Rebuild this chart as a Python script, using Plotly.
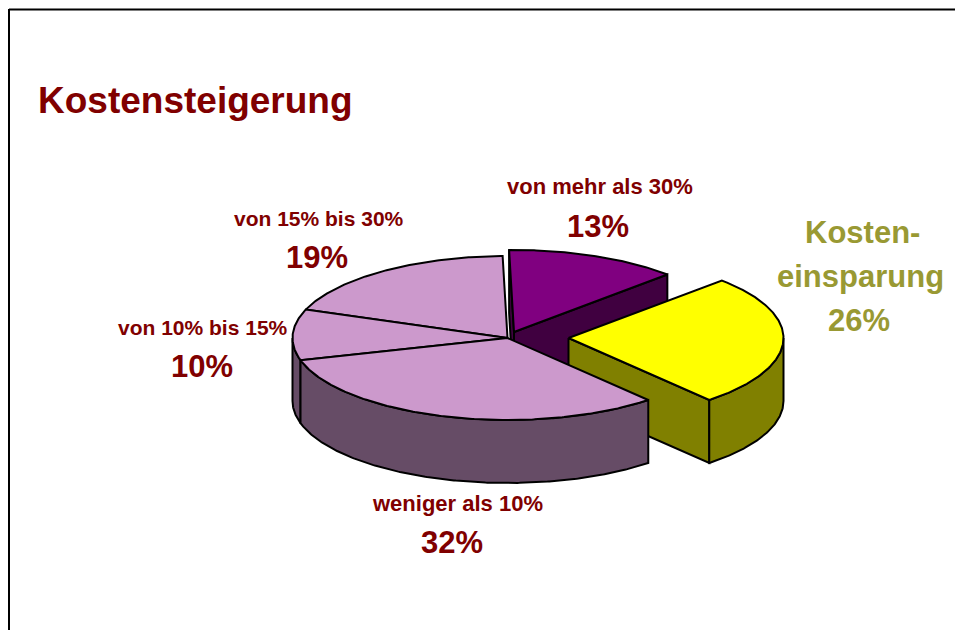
import numpy as np
import plotly.graph_objects as go

# --- data (angles run counter-clockwise) ---
categories = ["von mehr als 30%", "von 15% bis 30%", "von 10% bis 15%", "weniger als 10%", "Kostenersparnis"]
values = [13, 19, 10, 32, 26]
percent_labels = ["13%", "19%", "10%", "32%", "26%"]
title_text = "Kostensteigerung"

# --- projection of the tilted pie onto the page (pixel-sized data axes) ---
START_ANGLE = 44.5
RX, RY, DEPTH = 215, 82, 63
CENTERS = [(514, 332), (507.5, 338), (507.5, 338), (507.5, 338), (568.5, 338)]
TOP = ["#800080", "#CC99CC", "#CC99CC", "#CC99CC", "#FFFF00"]
SIDE = ["#400040", "#664C66", "#664C66", "#664C66", "#808000"]
DARK_RED = "#800000"
OLIVE = "#999933"
EDGE = "black"
LW = 2

fracs = np.array(values) / sum(values) * 360
ends = START_ANGLE + np.cumsum(fracs)
starts = ends - fracs


def arc(c, a0, a1, dy=0):
    t = np.radians(np.linspace(a0, a1, max(int(abs(a1 - a0)) * 2, 2)))
    return c[0] + RX * np.cos(t), c[1] - RY * np.sin(t) + dy


def poly(fig, x, y, color):
    fig.add_trace(go.Scatter(
        x=np.r_[x, x[0]], y=np.r_[y, y[0]], mode="lines", fill="toself",
        fillcolor=color, line=dict(color=EDGE, width=LW, shape="linear"),
        hoverinfo="skip", showlegend=False))


def cut_face(fig, i, angle):
    c = CENTERS[i]
    px, py = arc(c, angle, angle)
    px, py = px[0], py[0]
    poly(fig, np.array([c[0], px, px, c[0]]),
         np.array([c[1], py, py + DEPTH, c[1] + DEPTH]), SIDE[i])


def wall(fig, i, a0, a1):
    x0, y0 = arc(CENTERS[i], a0, a1)
    x1, y1 = arc(CENTERS[i], a1, a0, DEPTH)
    poly(fig, np.r_[x0, x1], np.r_[y0, y1], SIDE[i])


def top(fig, i):
    x, y = arc(CENTERS[i], starts[i], ends[i])
    c = CENTERS[i]
    poly(fig, np.r_[c[0], x], np.r_[c[1], y], TOP[i])


fig = go.Figure()

# back slice: purple, with both cut faces
cut_face(fig, 0, starts[0])
cut_face(fig, 0, ends[0])
top(fig, 0)

# exploded yellow slice
cut_face(fig, 4, starts[4])
wall(fig, 4, starts[4], 360)
top(fig, 4)

# pink slices: visible outer walls, then tops
wall(fig, 2, 180, ends[2])
wall(fig, 3, starts[3], ends[3])
for i in (1, 2, 3):
    top(fig, i)


def label(text, x, y, size, color=DARK_RED):
    fig.add_annotation(text=text, x=x, y=y, xref="x", yref="y", showarrow=False,
                       xanchor="center", yanchor="middle",
                       font=dict(family="Liberation Sans", size=size, color=color, weight="bold"))


label(categories[0], 600, 186, 22)
label(percent_labels[0], 598, 226, 31)
label(categories[1], 319, 218, 21)
label(percent_labels[1], 317, 257, 31)
label(categories[2], 203, 327, 21)
label(percent_labels[2], 202, 366, 31)
label(categories[3], 457, 503, 22)
label(percent_labels[3], 452, 542, 31)
label("Kosten-", 862, 232, 31, OLIVE)
label("einsparung", 860, 276, 31, OLIVE)
label(percent_labels[4], 859, 320, 31, OLIVE)
fig.add_annotation(text=title_text, x=36, y=100, xref="x", yref="y", showarrow=False,
                   xanchor="left", yanchor="middle",
                   font=dict(family="Liberation Sans", size=37, color=DARK_RED, weight="bold"))

# slide frame
fig.add_shape(type="line", x0=9, y0=9.5, x1=955, y1=9.5, line=dict(color="black", width=2))
fig.add_shape(type="line", x0=9, y0=9, x1=9, y1=630, line=dict(color="black", width=2))

fig.update_layout(
    width=955, height=630, margin=dict(l=0, r=0, t=0, b=0),
    paper_bgcolor="white", plot_bgcolor="white", hovermode=False, showlegend=False,
    xaxis=dict(range=[0, 955], visible=False, fixedrange=True),
    yaxis=dict(range=[630, 0], visible=False, fixedrange=True),
)

fig.write_html("out.html", config={"displayModeBar": False},
               post_script="document.body.style.margin='0';")
